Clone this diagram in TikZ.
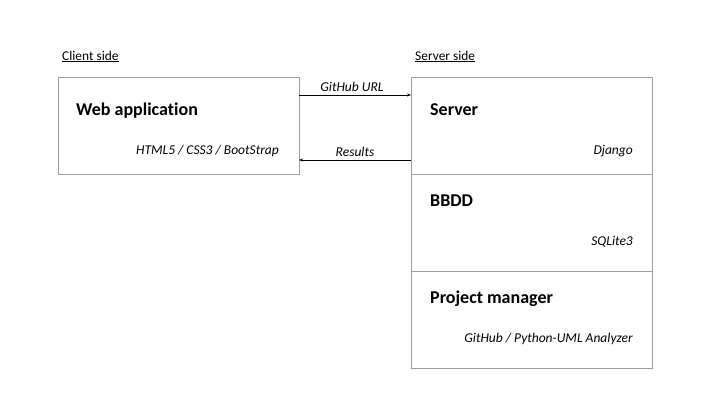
\documentclass[tikz,border=0pt]{standalone}
\usepackage{fontspec}
\setmainfont{Carlito}[Ligatures=NoCommon]
\usetikzlibrary{arrows.meta}
\usetikzlibrary{positioning}

\begin{document}
\begin{tikzpicture}[x=1pt,y=-1pt,
  box/.style={draw=black!38, line width=0.8pt, minimum width=241pt, minimum height=97pt, inner sep=0pt, outer sep=0pt},
  title/.style={font=\fontsize{18}{20}\selectfont\bfseries, anchor=base west, inner sep=0pt},
  tech/.style={font=\fontsize{13.5}{15}\selectfont\itshape, anchor=base east, inner sep=0pt},
  side/.style={font=\fontsize{13.4}{15}\selectfont, anchor=base west, inner sep=0pt},
  msg/.style={-{Stealth[length=4pt,width=3pt]}, line width=0.6pt}]
\useasboundingbox (0,0) rectangle (720,405);
\coordinate (c) at (58,77);
\coordinate (s) at (411,77);
% draws boxes
\node[box, anchor=north west] (webapp) at (c) {};
\node[box, anchor=north west] (srv) at (s) {};
\node[box, below=0pt of srv] (db) {};
\node[box, below=0pt of db] (pm) {};
% side labels
\node[side] (client) at (62,60) {\underline{Client side}};
\node[side] (server) at (415,60) {\underline{Server side}};
% labels boxes
\node[title] (webapptitle) at (76,115) {Web application};
\node[tech] (webapptech) at (279,154) {HTML5 / CSS3 / BootStrap};
\node[title] (srvtitle) at (430,115) {Server};
\node[tech] (srvtech) at (633,154) {Django};
\node[title] (dbtitle) at (430,206) {BBDD};
\node[tech] (dbtech) at (633,245) {SQLite3};
\node[title] (pmtitle) at (430,303) {Project manager};
\node[tech] (pmtech) at (633,342) {GitHub / Python-UML Analyzer};
% draws messages
\draw[msg] ([yshift=-18pt]webapp.north east) -- node[tech, anchor=base, yshift=4pt, xshift=-3pt] {GitHub URL} ([yshift=-18pt]srv.north west);
\draw[msg] ([yshift=-83pt]srv.north west) -- node[tech, anchor=base, yshift=4pt] {Results} ([yshift=-83pt]webapp.north east);
\end{tikzpicture}
\end{document}
